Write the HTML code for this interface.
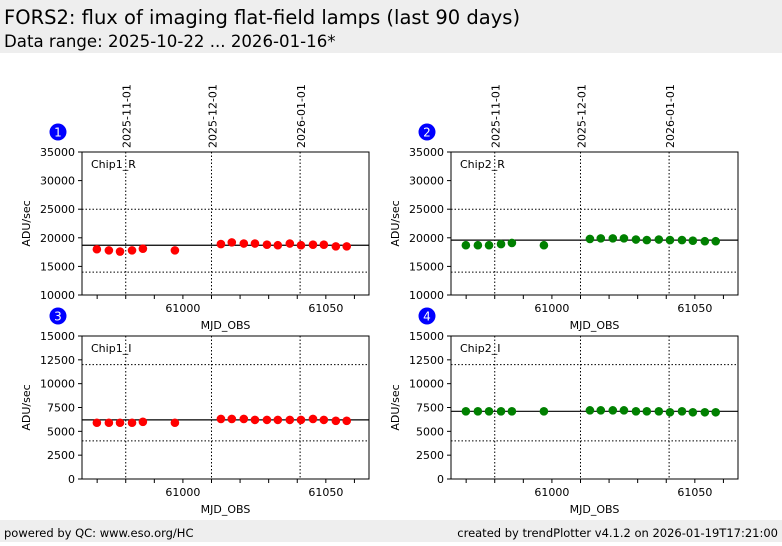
<!DOCTYPE html>
<html><head><meta charset="utf-8"><style>
body{margin:0;width:782px;height:542px;overflow:hidden;background:#fff;font-family:"DejaVu Sans","Liberation Sans",sans-serif}
svg text{font-family:"DejaVu Sans","Liberation Sans",sans-serif}
</style></head><body>
<svg id="c" width="782" height="542" xmlns="http://www.w3.org/2000/svg">
<rect x="0" y="0" width="782" height="53" fill="#eeeeee"/>
<text x="4" y="24" font-size="19.5">FORS2: flux of imaging flat-field lamps (last 90 days)</text>
<text x="4" y="47" font-size="16.6">Data range: 2025-10-22 ... 2026-01-16*</text>
<rect x="0" y="520" width="782" height="22" fill="#eeeeee"/>
<text x="4" y="537" font-size="11.5">powered by QC: www.eso.org/HC</text>
<text x="778" y="537" font-size="11.5" text-anchor="end">created by trendPlotter v4.1.2 on 2026-01-19T17:21:00</text>
</svg>
<script>
const mjd=[60969.9,60974.1,60978,60982.2,60986,60997.2,61013.3,61017.1,61021.3,61025.2,61029.4,61033.2,61037.4,61041.3,61045.5,61049.3,61053.5,61057.3];
const chip1R=[18000,17800,17600,17800,18100,17800,18900,19200,19000,19000,18800,18700,19000,18700,18800,18800,18500,18500];
const chip2R=[18700,18700,18700,18900,19100,18700,19800,19900,19900,19900,19700,19600,19700,19600,19600,19500,19400,19400];
const chip1I=[5900,5900,5900,5900,6000,5900,6300,6300,6300,6200,6200,6200,6200,6200,6300,6200,6100,6100];
const chip2I=[7100,7100,7100,7100,7100,7100,7200,7200,7200,7200,7100,7100,7100,7000,7100,7000,7000,7000];
const medians=[18700,19600,6200,7100];
const limitsHi=[25000,25000,12000,12000];
const limitsLo=[14000,14000,4000,4000];
const dateLines=[60980,61010,61041];
const dateLabels=["2025-11-01","2025-12-01","2026-01-01"];
const yTicksR=[10000,15000,20000,25000,30000,35000];
const yTicksI=[0,2500,5000,7500,10000,12500,15000];
const xTicks=[60970,60980,60990,61000,61010,61020,61030,61040,61050,61060];
const xLabels=[61000,61050];
const panels=[
 {name:"Chip1_R",v:chip1R,x0:82,y0:152,yt:yTicksR,col:"#ff0000",n:"1",top:true},
 {name:"Chip2_R",v:chip2R,x0:451,y0:152,yt:yTicksR,col:"#008000",n:"2",top:true},
 {name:"Chip1_I",v:chip1I,x0:82,y0:336,yt:yTicksI,col:"#ff0000",n:"3",top:false},
 {name:"Chip2_I",v:chip2I,x0:451,y0:336,yt:yTicksI,col:"#008000",n:"4",top:false}];
const svg=document.getElementById('c');const NS="http://www.w3.org/2000/svg";
function mk(t,a,p){const e=document.createElementNS(NS,t);for(const k in a)e.setAttribute(k,a[k]);(p||svg).appendChild(e);return e;}
const W=287,H=143,XMIN=60964.7,XMAX=61065.1;
panels.forEach((p,i)=>{
 const g=mk('g',{});
 
 
 const ymin=p.yt[0],ymax=p.yt[p.yt.length-1];
 const X=m=>p.x0+(m-XMIN)/(XMAX-XMIN)*W;
 const Y=v=>p.y0+H-(v-ymin)/(ymax-ymin)*H;
 [limitsHi[i],limitsLo[i]].forEach(l=>{const e=mk('line',{x1:p.x0,x2:p.x0+W,y1:Y(l),y2:Y(l),stroke:'#000','stroke-width':1,'stroke-dasharray':'1.5,2'},g);});
 dateLines.forEach((d,j)=>{const e=mk('line',{x1:X(d),x2:X(d),y1:p.y0,y2:p.y0+H,stroke:'#000','stroke-width':1,'stroke-dasharray':'1.5,2'},g);
  if(p.top){const tx=X(d)+5,ty=p.y0-4;const t=mk('text',{x:tx,y:ty,'font-size':11,transform:`rotate(-90 ${tx} ${ty})`},g);t.textContent=dateLabels[j];}
 });
 const med=mk('line',{x1:p.x0,x2:p.x0+W,y1:Y(medians[i]),y2:Y(medians[i]),stroke:'#000','stroke-width':1.2},g);
 
 p.v.forEach((v,j)=>{const c=mk('circle',{cx:X(mjd[j]),cy:Y(v),r:4.3,fill:p.col},g);});
 const fr=mk('rect',{x:p.x0,y:p.y0,width:W,height:H,fill:'none',stroke:'#000','stroke-width':1},g);
 
 p.yt.forEach(t=>{mk('line',{x1:p.x0,x2:p.x0-4,y1:Y(t),y2:Y(t),stroke:'#000'},g);const e=mk('text',{x:p.x0-7,y:Y(t)+4,'font-size':11,'text-anchor':'end'},g);e.textContent=t;});
 xTicks.forEach(t=>mk('line',{x1:X(t),x2:X(t),y1:p.y0+H,y2:p.y0+H+4,stroke:'#000'},g));
 xLabels.forEach(t=>{const e=mk('text',{x:X(t),y:p.y0+H+17,'font-size':11,'text-anchor':'middle'},g);e.textContent=t;});
 const xt=mk('text',{x:p.x0+W/2,y:p.y0+H+34,'font-size':11,'text-anchor':'middle'},g);xt.textContent='MJD_OBS';
 const yx=p.x0-52,yy=p.y0+H/2;const yt=mk('text',{x:yx,y:yy,'font-size':11,'text-anchor':'middle',transform:`rotate(-90 ${yx} ${yy})`},g);yt.textContent='ADU/sec';
 const lb=mk('text',{x:p.x0+9,y:p.y0+16,'font-size':11},g);lb.textContent=p.name;
 const bx=p.x0-24,by=p.y0-20;
 const bc=mk('circle',{cx:bx,cy:by,r:8.5,fill:'#0000ff'},g);
 const bt=mk('text',{x:bx,y:by+4.5,'font-size':12,fill:'#fff','text-anchor':'middle'},g);bt.textContent=p.n;
});
</script>
</body></html>
